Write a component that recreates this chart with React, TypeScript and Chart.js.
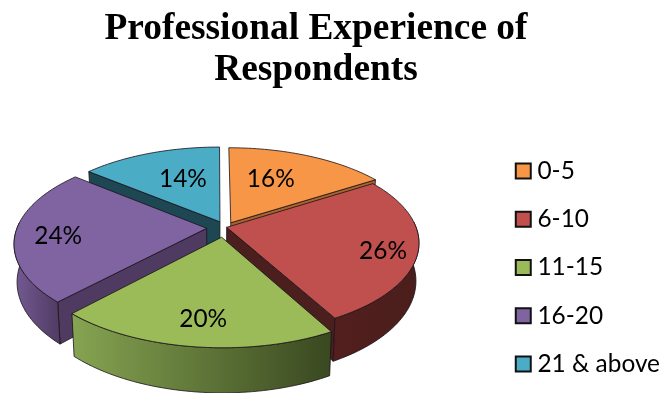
import React, { useEffect, useRef } from "react";
import { Chart, registerables } from "chart.js";

Chart.register(...registerables);

const categories = ["0-5", "6-10", "11-15", "16-20", "21 & above"];
const shares = [16, 26, 20, 24, 14];
const topColors = ["#F79646", "#C0504D", "#9BBB59", "#8064A2", "#4BACC6"];
const rimLeft = ["#B06A30", "#521F1D", "#86A451", "#745A94", "#1F4A55"];
const rimRight = ["#B06A30", "#4A1E1C", "#394820", "#4F3B62", "#1F4A55"];
const wallColors = ["#A9632C", "#4A1F1D", "#4A5C2A", "#4F3B62", "#1D4853"];
// Radial position of each percentage, as a share of the pie radius, and its angular nudge in degrees.
const labelRadii = [0.72, 0.87, 0.85, 0.83, 0.67];
const labelNudges = [-3, 0, -3, 0, 8];
// How far each slice is pulled out of the pie, in the plane of the pie.
const pullX = [13.9, 9.7, 4.6, -10.3, 3];
const pullY = [-13.4, -3.6, 17.2, -1.5, -15.5];

const titleLines = ["Professional Experience of", "Respondents"];

// Tilted view of the pie: screen anchor, squash, perspective strength and extrusion.
const ANCHOR_X = 217;
const ANCHOR_Y = 229;
const SQUASH = 0.47;
const PERSPECTIVE = 0.165;
const DEPTH = 37;
const CONVERGE = 0.985;

type Pt = [number, number];

function project(px: number, py: number, radius: number, lowered: boolean): Pt {
  const m = py / radius;
  const s = 1 / (1 - PERSPECTIVE * m);
  const x = px * s;
  const y = py * SQUASH * s;
  if (!lowered) return [ANCHOR_X + x, ANCHOR_Y + y];
  return [ANCHOR_X + x * CONVERGE, ANCHOR_Y + y + DEPTH * s];
}

function trace(ctx: CanvasRenderingContext2D, pts: Pt[]) {
  ctx.beginPath();
  pts.forEach((p, i) => (i ? ctx.lineTo(p[0], p[1]) : ctx.moveTo(p[0], p[1])));
  ctx.closePath();
}

const tiltedPie = {
  id: "tiltedPie",
  beforeDatasetsDraw(chart: any) {
    const ctx: CanvasRenderingContext2D = chart.ctx;
    const arcs: any[] = chart.getDatasetMeta(0).data;
    const edge = "rgba(25,18,25,0.8)";

    const order = arcs
      .map((_, i) => i)
      .sort((a, b) => {
        const mid = (k: number) => (arcs[k].startAngle + arcs[k].endAngle) / 2;
        return Math.sin(mid(a)) - Math.sin(mid(b));
      });

    ctx.save();
    ctx.lineJoin = "round";
    ctx.lineWidth = 1;
    ctx.strokeStyle = edge;

    order.forEach((i) => {
      const arc = arcs[i];
      const { startAngle, endAngle, outerRadius: r } = arc;
      const mid = (startAngle + endAngle) / 2;
      const at = (angle: number, radius: number, lowered: boolean) =>
        project(pullX[i] + Math.cos(angle) * radius, pullY[i] + Math.sin(angle) * radius, r, lowered);
      const span = (from: number, to: number, lowered: boolean) => {
        const n = Math.max(2, Math.ceil((to - from) * 40));
        const out: Pt[] = [];
        for (let k = 0; k <= n; k++) out.push(at(from + ((to - from) * k) / n, r, lowered));
        return out;
      };

      // Straight cut faces that turn towards the viewer.
      const wall = (angle: number) => {
        trace(ctx, [at(angle, 0, false), at(angle, r, false), at(angle, r, true), at(angle, 0, true)]);
        ctx.fillStyle = wallColors[i];
        ctx.fill();
        ctx.stroke();
      };
      if (Math.cos(startAngle) < 0) wall(startAngle);
      if (Math.cos(endAngle) > 0) wall(endAngle);

      // Curved rim, limited to the near half of the circle.
      let from = startAngle;
      let to = endAngle;
      if (to > Math.PI * 1.5) {
        from -= Math.PI * 2;
        to -= Math.PI * 2;
      }
      from = Math.max(from, -0.06);
      to = Math.min(to, Math.PI + 0.06);
      if (to > from) {
        const upper = span(from, to, false);
        const lower = span(from, to, true);
        const xs = upper.concat(lower).map((p) => p[0]);
        const fill = ctx.createLinearGradient(Math.min(...xs), 0, Math.max(...xs), 0);
        fill.addColorStop(0, rimLeft[i]);
        fill.addColorStop(1, rimRight[i]);
        trace(ctx, upper.concat(lower.reverse()));
        ctx.fillStyle = fill;
        ctx.fill();
        ctx.stroke();
      }

      // Top face of the slice.
      trace(ctx, [at(mid, 0, false), ...span(startAngle, endAngle, false)]);
      ctx.fillStyle = topColors[i];
      ctx.fill();
      ctx.stroke();
    });

    // Percentages sit on the top faces.
    ctx.fillStyle = "#000";
    ctx.font = "24.4px Lato";
    ctx.textAlign = "center";
    ctx.textBaseline = "middle";
    arcs.forEach((arc, i) => {
      const mid = (arc.startAngle + arc.endAngle) / 2 + (labelNudges[i] * Math.PI) / 180;
      const rr = arc.outerRadius * labelRadii[i];
      const [x, y] = project(Math.cos(mid) * rr, Math.sin(mid) * rr, arc.outerRadius, false);
      ctx.fillText(`${shares[i]}%`, x, y + 2);
    });
    ctx.restore();
    return false;
  },
};

export default function App() {
  const canvasRef = useRef<HTMLCanvasElement>(null);

  useEffect(() => {
    document.body.style.margin = "0";
    const chart = new Chart(canvasRef.current!, {
      type: "pie",
      data: {
        labels: categories,
        datasets: [
          {
            data: shares,
            backgroundColor: topColors,
            borderColor: "#000",
            borderWidth: 0,
          },
        ],
      },
      options: {
        animation: false,
        responsive: false,
        radius: 190,
        layout: { padding: { left: -38, right: -9, top: 0, bottom: -142 } },
        plugins: {
          tooltip: { enabled: false },
          title: {
            display: true,
            text: titleLines,
            color: "#000",
            font: { family: "Liberation Serif", size: 37.4, weight: "bold", lineHeight: 1.1 },
            padding: { top: 9, bottom: 3 },
          },
          legend: {
            position: "right",
            labels: {
              color: "#000",
              font: { family: "Lato", size: 24.4 },
              padding: 23.8,
              usePointStyle: true,
              pointStyle: "rect",
              boxWidth: 4,
              boxHeight: 15,
              generateLabels(c: any) {
                return Chart.overrides.pie.plugins.legend.labels
                  .generateLabels(c)
                  .map((item: any) => ({ ...item, strokeStyle: "#111", lineWidth: 2 }));
              },
            },
          },
        },
      } as any,
      plugins: [tiltedPie],
    });
    return () => chart.destroy();
  }, []);

  return <canvas ref={canvasRef} width={661} height={393} style={{ display: "block" }} />;
}
